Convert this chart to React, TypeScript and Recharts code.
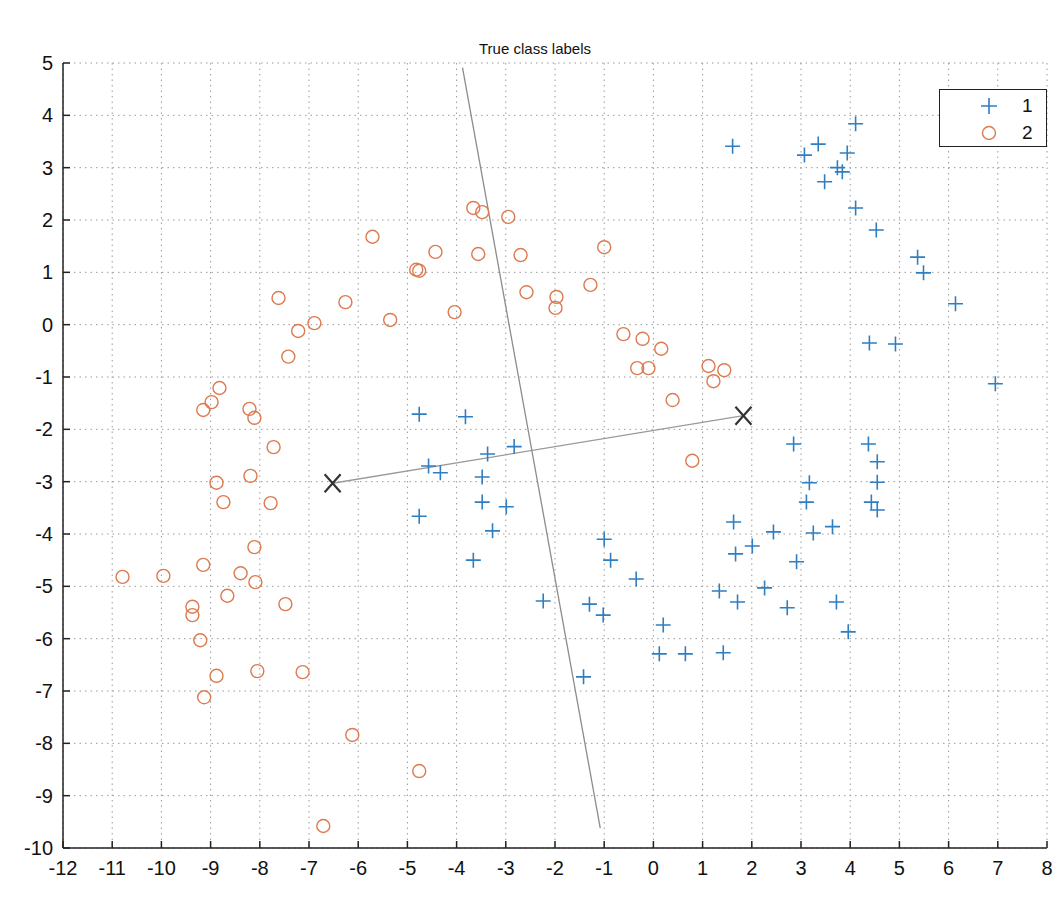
import {
  CartesianGrid,
  Legend,
  ReferenceLine,
  Scatter,
  ScatterChart,
  XAxis,
  YAxis,
} from "recharts";

const xTicks = [-12, -11, -10, -9, -8, -7, -6, -5, -4, -3, -2, -1, 0, 1, 2, 3, 4, 5, 6, 7, 8];
const yTicks = [-10, -9, -8, -7, -6, -5, -4, -3, -2, -1, 0, 1, 2, 3, 4, 5];

// class 1 (+)
const class1: [number, number][] = [
  [-4.76, -1.71], [-3.82, -1.76], [-4.57, -2.7], [-4.33, -2.83], [-2.83, -2.33],
  [-3.37, -2.47], [-3.48, -2.91], [-3.48, -3.39], [-2.99, -3.48], [-3.27, -3.94],
  [-4.76, -3.66], [-3.66, -4.5], [-2.24, -5.28], [-1.3, -5.34], [-1.02, -5.55],
  [-1.0, -4.1], [-0.87, -4.5], [-0.35, -4.86], [-1.42, -6.73], [0.2, -5.74],
  [0.12, -6.29], [0.65, -6.29], [1.42, -6.27], [1.34, -5.09], [1.71, -5.3],
  [1.67, -4.38], [1.63, -3.77], [2.01, -4.23], [2.26, -5.03], [2.44, -3.96],
  [2.72, -5.41], [2.91, -4.53], [2.85, -2.28], [3.25, -3.98], [3.11, -3.39],
  [3.17, -3.02], [3.64, -3.86], [3.72, -5.3], [3.96, -5.87], [4.37, -2.28],
  [4.55, -2.62], [4.55, -3.01], [4.43, -3.39], [4.55, -3.54], [1.61, 3.41],
  [3.07, 3.24], [3.35, 3.45], [3.94, 3.28], [3.74, 3.0], [3.84, 2.92],
  [3.48, 2.73], [4.11, 3.84], [4.11, 2.23], [4.53, 1.81], [5.37, 1.29],
  [5.49, 0.99], [6.14, 0.4], [4.39, -0.35], [4.92, -0.37], [6.95, -1.13],
];

// class 2 (o)
const class2: [number, number][] = [
  [-3.66, 2.23], [-3.48, 2.15], [-2.95, 2.06], [-5.71, 1.68], [-4.43, 1.39],
  [-3.56, 1.35], [-2.7, 1.33], [-1.0, 1.48], [-4.82, 1.05], [-4.76, 1.03],
  [-7.62, 0.51], [-6.26, 0.43], [-2.58, 0.62], [-1.97, 0.53], [-1.99, 0.32],
  [-1.28, 0.76], [-4.04, 0.24], [-5.35, 0.09], [-6.89, 0.03], [-7.22, -0.12],
  [-7.42, -0.61], [-0.61, -0.18], [-0.22, -0.27], [0.16, -0.46], [-0.33, -0.83],
  [-0.1, -0.83], [1.12, -0.79], [1.44, -0.87], [1.22, -1.08], [0.39, -1.44],
  [0.79, -2.6], [-8.82, -1.21], [-8.98, -1.48], [-9.15, -1.63], [-8.21, -1.61],
  [-8.11, -1.78], [-7.72, -2.34], [-8.88, -3.02], [-8.19, -2.89], [-7.78, -3.41],
  [-8.74, -3.39], [-8.11, -4.25], [-9.15, -4.59], [-10.79, -4.82], [-9.96, -4.8],
  [-8.39, -4.75], [-8.09, -4.92], [-8.66, -5.18], [-7.48, -5.34], [-9.37, -5.39],
  [-9.37, -5.55], [-9.21, -6.03], [-8.88, -6.71], [-8.05, -6.62], [-7.13, -6.64],
  [-9.13, -7.12], [-6.12, -7.84], [-4.76, -8.53], [-6.71, -9.58],
];

const centroids: [number, number][] = [[-6.52, -3.03], [1.83, -1.74]];
const boundary: [number, number][] = [[-3.88, 4.91], [-1.08, -9.62]];

const BLUE = "#2f7ec2";
const ORANGE = "#dd7a4f";
const FONT = "'Liberation Sans', Arial, sans-serif";

const toPts = (a: [number, number][]) => a.map(([x, y]) => ({ x, y }));

function PlusMark({ cx, cy }: any) {
  return (
    <path
      d={`M${cx - 7.5},${cy}H${cx + 7.5}M${cx},${cy - 7.5}V${cy + 7.5}`}
      stroke={BLUE}
      strokeWidth={1.6}
      fill="none"
    />
  );
}

function CircleMark({ cx, cy }: any) {
  return <circle cx={cx} cy={cy} r={6.5} stroke={ORANGE} strokeWidth={1.4} fill="none" />;
}

function XMark({ cx, cy }: any) {
  return (
    <path
      d={`M${cx - 8},${cy - 9}L${cx + 8},${cy + 9}M${cx + 8},${cy - 9}L${cx - 8},${cy + 9}`}
      stroke="#333"
      strokeWidth={2.2}
      fill="none"
    />
  );
}

function LegendBox() {
  const row = { display: "flex", alignItems: "center", height: 27 } as const;
  return (
    <div
      style={{
        width: 108,
        height: 58,
        border: "1.5px solid #222",
        background: "#fff",
        fontFamily: FONT,
        fontSize: 19,
        color: "#111",
        boxSizing: "border-box",
        paddingTop: 2,
      }}
    >
      <div style={row}>
        <svg width={82} height={20}>
          <path d="M41,10H57M49,2V18" stroke={BLUE} strokeWidth={1.6} />
        </svg>
        <span>1</span>
      </div>
      <div style={row}>
        <svg width={82} height={20}>
          <circle cx={49} cy={10} r={6.5} stroke={ORANGE} strokeWidth={1.4} fill="none" />
        </svg>
        <span>2</span>
      </div>
    </div>
  );
}

export default function App() {
  const tick = { fontSize: 20, fontFamily: FONT, fill: "#111" };
  return (
    <div style={{ position: "absolute", left: 0, top: 0, width: 1055, height: 916, background: "#fff" }}>
      <div
        style={{
          position: "absolute",
          left: 0,
          width: 1070,
          top: 40,
          textAlign: "center",
          fontFamily: FONT,
          fontSize: 15,
          color: "#111",
        }}
      >
        True class labels
      </div>
      <ScatterChart width={1055} height={916} margin={{ top: 63, right: 8, bottom: 28, left: 0 }}>
        <CartesianGrid stroke="#9a9a9a" strokeDasharray="1.5 4" />
        <XAxis
          type="number"
          dataKey="x"
          domain={[-12, 8]}
          ticks={xTicks}
          interval={0}
          height={40}
          tick={tick}
          tickSize={-7}
          tickMargin={20}
          stroke="#222"
          strokeWidth={1.5}
          allowDataOverflow
        />
        <YAxis
          type="number"
          dataKey="y"
          domain={[-10, 5]}
          ticks={yTicks}
          interval={0}
          width={63}
          tick={tick}
          tickSize={-7}
          tickMargin={17}
          stroke="#222"
          strokeWidth={1.5}
          allowDataOverflow
        />
        <ReferenceLine
          segment={toPts(boundary)}
          stroke="#8c8c8c"
          strokeWidth={1.3}
        />
        <ReferenceLine
          segment={toPts(centroids)}
          stroke="#9a9a9a"
          strokeWidth={1.3}
        />
        <Scatter name="1" data={toPts(class1)} shape={PlusMark} isAnimationActive={false} />
        <Scatter name="2" data={toPts(class2)} shape={CircleMark} isAnimationActive={false} />
        <Scatter data={toPts(centroids)} shape={XMark} legendType="none" isAnimationActive={false} />
        <Legend
          layout="horizontal"
          verticalAlign="middle"
          align="center"
          content={() => <LegendBox />}
          wrapperStyle={{ left: 939, top: 89, width: 108, height: 58 }}
        />
      </ScatterChart>
    </div>
  );
}
